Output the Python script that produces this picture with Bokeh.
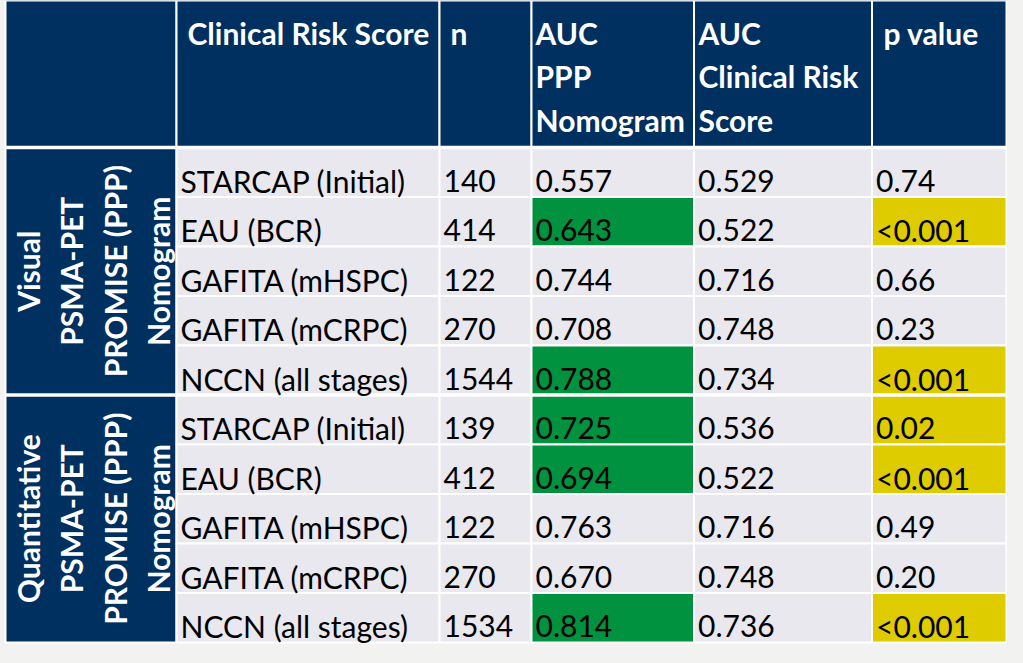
import math
from bokeh.plotting import figure
from bokeh.models import Range1d, ColumnDataSource
from bokeh.core.properties import value
from bokeh.embed import file_html
from bokeh.resources import INLINE

# ---------------- data ----------------
groups = ["Visual\nPSMA-PET\nPROMISE (PPP)\nNomogram",
          "Quantitative\nPSMA-PET\nPROMISE (PPP)\nNomogram"]
headers = ["Clinical Risk Score", "n", "AUC\nPPP\nNomogram", "AUC\nClinical Risk\nScore", "p value"]
scores = ["STARCAP (Initial)", "EAU (BCR)", "GAFITA (mHSPC)", "GAFITA (mCRPC)", "NCCN (all stages)",
          "STARCAP (Initial)", "EAU (BCR)", "GAFITA (mHSPC)", "GAFITA (mCRPC)", "NCCN (all stages)"]
n_vals = ["140", "414", "122", "270", "1544", "139", "412", "122", "270", "1534"]
auc_ppp = ["0.557", "0.643", "0.744", "0.708", "0.788", "0.725", "0.694", "0.763", "0.670", "0.814"]
auc_clin = ["0.529", "0.522", "0.716", "0.748", "0.734", "0.536", "0.522", "0.716", "0.748", "0.736"]
p_vals = ["0.74", "<0.001", "0.66", "0.23", "<0.001", "0.02", "<0.001", "0.49", "0.20", "<0.001"]
significant = [False, True, False, False, True, True, True, False, False, True]

# ---------------- layout ----------------
W, H = 1007, 647
NAVY = "#00305F"
CELL = "#E9E8EF"
GREEN = "#00923F"
YELLOW = "#DECB00"
BG = "#F2F2F0"
FONT = value("Lato")
FS = "30px"

col_edges = [5, 176, 439, 531, 693.5, 871.5, 1006]
header_top, header_bottom = 0, 147
row_h = 49.5
n_rows = len(scores)
row_tops = [header_bottom + i * row_h for i in range(n_rows)]

p = figure(width=W, height=H, output_backend="svg", toolbar_location=None,
           x_range=Range1d(0, W), y_range=Range1d(H, 0),
           x_axis_type=None, y_axis_type=None, min_border=0,
           background_fill_color=BG, border_fill_color=BG, outline_line_color=None)
p.grid.visible = False

# cells
L, R, T, B, F = [], [], [], [], []
for c in range(6):
    L.append(col_edges[c]); R.append(col_edges[c + 1]); T.append(header_top); B.append(header_bottom); F.append(NAVY)
for g in range(len(groups)):
    L.append(col_edges[0]); R.append(col_edges[1])
    T.append(row_tops[g * 5]); B.append(row_tops[g * 5] + 5 * row_h); F.append(NAVY)
for i in range(n_rows):
    for c in range(1, 6):
        fill = CELL
        if significant[i] and c == 3:
            fill = GREEN
        if significant[i] and c == 5:
            fill = YELLOW
        L.append(col_edges[c]); R.append(col_edges[c + 1])
        T.append(row_tops[i]); B.append(row_tops[i] + row_h); F.append(fill)

src = ColumnDataSource(dict(left=L, right=R, top=T, bottom=B, fill=F))
p.quad(left="left", right="right", top="top", bottom="bottom", fill_color="fill",
       line_color="white", line_width=2, source=src)

sep_y = [header_bottom, row_tops[5]]
p.segment(x0=[col_edges[0]] * 2, x1=[col_edges[-1]] * 2, y0=sep_y, y1=sep_y,
          line_color="white", line_width=3.5)

# header text
head_x = [187, 450, 535, 698, 883]
hx, hy, ht = [], [], []
for c, h in enumerate(headers):
    for k, line in enumerate(h.split("\n")):
        hx.append(head_x[c]); hy.append(32 + k * 43.5); ht.append(line)
p.text(x=hx, y=hy, text=ht, text_color="white", text_font=FONT, text_font_size=FS,
       text_font_style="bold", text_align="left", text_baseline="alphabetic")

# rotated group labels
gx, gy, gt = [], [], []
line_x = [27, 70.5, 114, 157.5]
for g, lab in enumerate(groups):
    cy = row_tops[g * 5] + 2.5 * row_h
    for k, line in enumerate(lab.split("\n")):
        gx.append(line_x[k]); gy.append(cy); gt.append(line)
p.text(x=gx, y=gy, text=gt, angle=math.pi / 2, text_color="white", text_font=FONT,
       text_font_size=FS, text_font_style="bold", text_align="center", text_baseline="middle")

# data text
dx, dy, dt = [], [], []
cols = [scores, n_vals, auc_ppp, auc_clin, p_vals]
for i in range(n_rows):
    for c, col in enumerate(cols):
        dx.append(col_edges[c + 1] + 4)
        dy.append(row_tops[i] + 33)
        dt.append(col[i])
p.text(x=dx, y=dy, text=dt, text_color="black", text_font=FONT, text_font_size=FS,
       text_align="left", text_baseline="alphabetic")

html = file_html(p, INLINE)
html = html.replace("</head>", "<style>body{background:%s;}</style></head>" % BG, 1)
open("out.html", "w").write(html)
